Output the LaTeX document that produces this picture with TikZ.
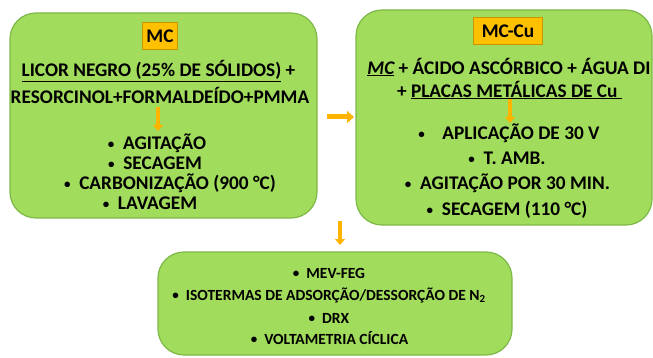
\documentclass[tikz,border=0pt]{standalone}
\usepackage{fontspec}
\setmainfont{Carlito}
\usetikzlibrary{arrows.meta}
\definecolor{boxgreen}{HTML}{A2DC5C}
\definecolor{boxedge}{HTML}{7DB846}
\definecolor{gold}{HTML}{FFC000}
\definecolor{goldedge}{HTML}{C89600}
\definecolor{arrowgold}{HTML}{FFB400}
\newcommand{\bul}{\raisebox{1pt}{\fontsize{13}{13}\selectfont\textbullet}}
\tikzset{
  greenbox/.style={fill=boxgreen, draw=boxedge, line width=1.2pt, rounded corners=26pt},
  label/.style={fill=gold, draw=goldedge, line width=0.8pt, font=\bfseries\fontsize{19.3}{21}\selectfont, inner sep=0pt, minimum height=27pt},
  txt/.style={font=\bfseries\fontsize{19.3}{21}\selectfont, inner sep=0pt, anchor=center},
  small/.style={font=\bfseries\fontsize{15.5}{17}\selectfont, inner sep=0pt, anchor=center},
  bigarrow/.style={draw=arrowgold, line width=5pt, -{Triangle[length=7pt,width=12pt]}},
  smallarrow/.style={draw=arrowgold, line width=3.5pt, -{Triangle[length=6pt,width=10pt]}},
}
\begin{document}
\begin{tikzpicture}[x=1pt,y=-1pt]
\useasboundingbox (0,0) rectangle (653,358);
% boxes
\draw[greenbox] (10,13) rectangle (317,218);
\draw[greenbox] (356,10) rectangle (652,225);
\draw[greenbox] (158,252) rectangle (512,355);
% box 1
\node[label, minimum width=35pt] (mc) at (160,36) {MC};
\node[txt] (l1) at (158.5,71) {\underline{LICOR NEGRO (25\% DE SÓLIDOS)} +};
\node[txt] (l2) at (160,95) {RESORCINOL+FORMALDEÍDO+PMMA};
\coordinate (a1s) at (158,107);
\coordinate (a1e) at (158,131);
\draw[smallarrow] (a1s) -- (a1e);
\node[txt] (p1) at (157,143) {\bul\ \ AGITAÇÃO};
\node[txt] (p2) at (155,163) {\bul\ \ SECAGEM};
\node[txt] (p3) at (170,183) {\bul\ \ CARBONIZAÇÃO (900 °C)};
\node[txt] (p4) at (150,203) {\bul\ \ LAVAGEM};
% box 2
\node[label, minimum width=69pt] (mccu) at (508,31) {MC-Cu};
\node[txt] (m1) at (509,67) {\underline{\itshape MC} + ÁCIDO ASCÓRBICO + ÁGUA DI};
\node[txt] (m2) at (509.5,90) {+ \underline{PLACAS METÁLICAS DE Cu\ }};
\coordinate (a2s) at (510,99);
\coordinate (a2e) at (510,123);
\draw[smallarrow] (a2s) -- (a2e);
\node[txt] (q1) at (509,133) {\bul\ \ \ \ APLICAÇÃO DE 30 V};
\node[txt] (q2) at (507,158) {\bul\ \ T. AMB.};
\node[txt] (q3) at (507.5,183) {\bul\ \ AGITAÇÃO POR 30 MIN.};
\node[txt] (q4) at (507,210) {\bul\ \ SECAGEM (110 °C)};
% box 3
\node[small] (r1) at (329,273) {\bul\ \ MEV-FEG};
\node[small] (r2) at (329,295) {\bul\ \ ISOTERMAS DE ADSORÇÃO/DESSORÇÃO DE N\textsubscript{2}};
\node[small] (r3) at (329,318) {\bul\ \ DRX};
\node[small] (r4) at (329.5,338) {\bul\ \ VOLTAMETRIA CÍCLICA};
% connectors
\coordinate (h1) at (327,117);
\coordinate (h2) at (354,117);
\draw[bigarrow] (h1) -- (h2);
\coordinate (v1) at (340,221);
\coordinate (v2) at (340,245);
\draw[smallarrow] (v1) -- (v2);
\end{tikzpicture}
\end{document}
